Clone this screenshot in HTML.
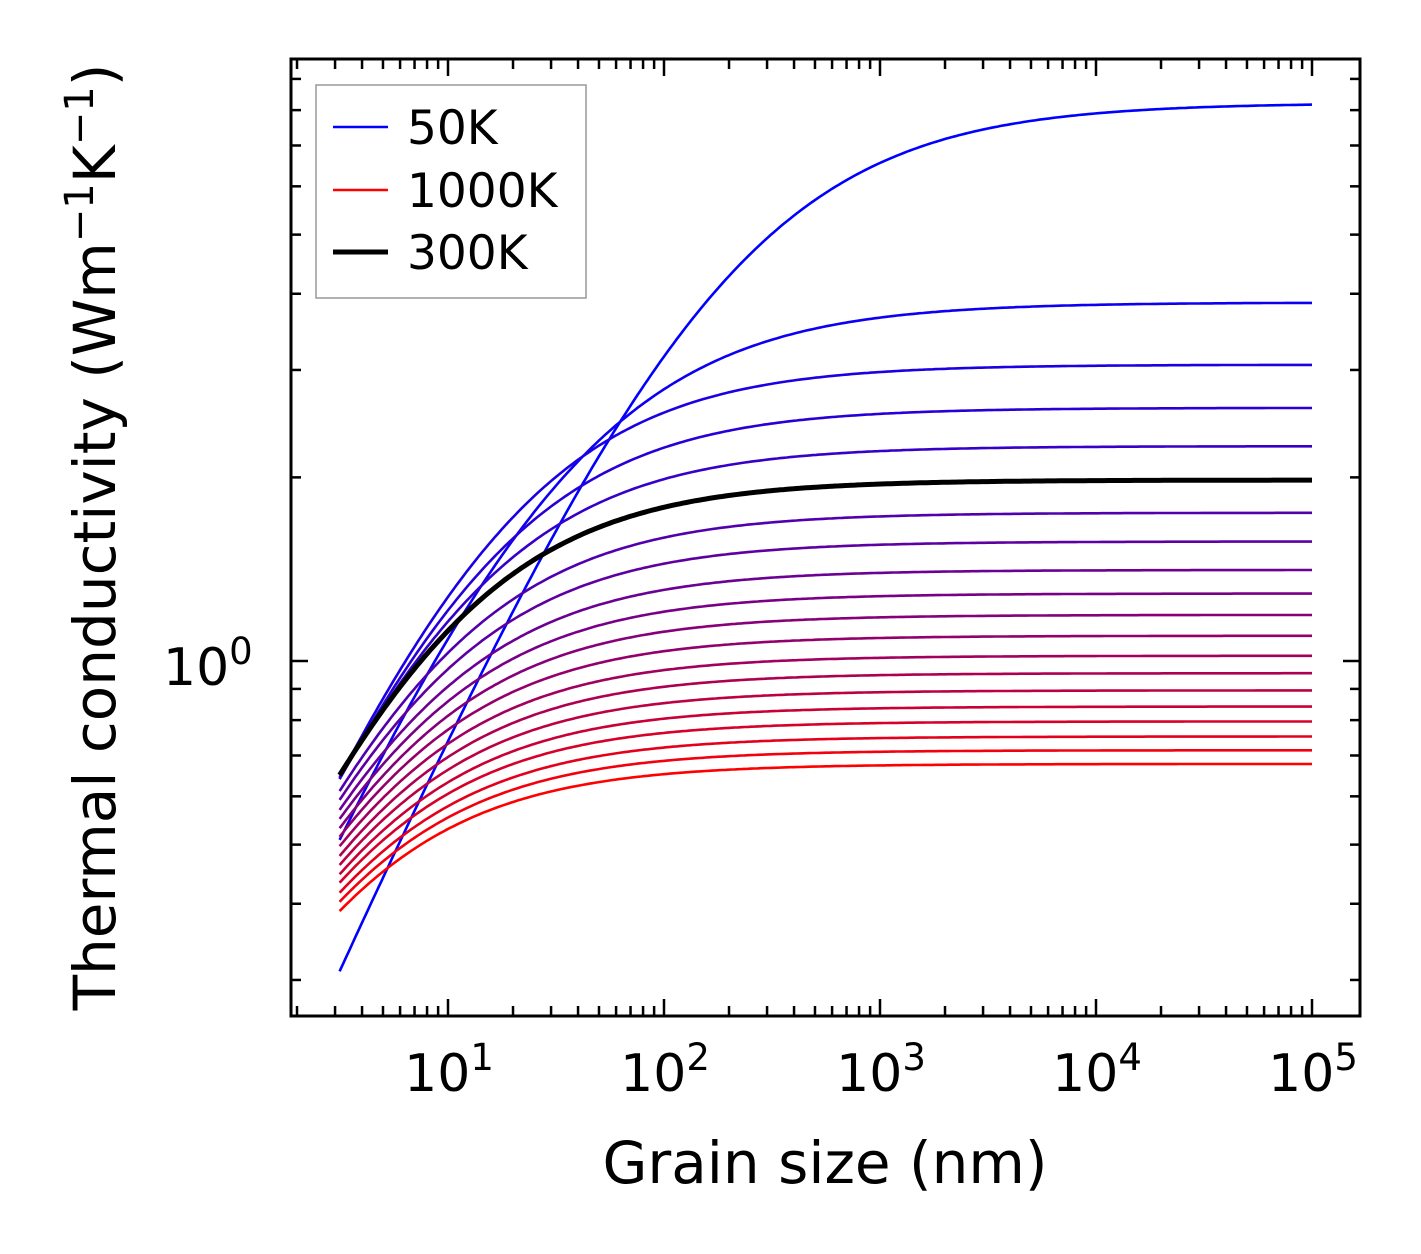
<!DOCTYPE html>
<html><head><meta charset="utf-8">
<style>
html,body{margin:0;padding:0;background:#fff;}
svg{display:block;font-family:"DejaVu Sans","Liberation Sans",sans-serif;}
</style></head>
<body>
<svg id="chart" width="1421" height="1254" viewBox="0 0 1421 1254">
<rect x="0" y="0" width="1421" height="1254" fill="#fff"/>
<g id="curves"></g>
<g id="ticks"></g>
<rect x="291" y="59" width="1069" height="957" fill="none" stroke="#000" stroke-width="3"/>
<g id="xlabels"></g>
<g id="ylabels"></g>
<text x="825" y="1183" font-size="58" text-anchor="middle">Grain size (nm)</text>
<text transform="translate(115,537) rotate(-90)" font-size="58" text-anchor="middle">Thermal conductivity (Wm<tspan dy="-22" font-size="40">−1</tspan><tspan dy="22">K</tspan><tspan dy="-22" font-size="40">−1</tspan><tspan dy="22">)</tspan></text>
<g>
<rect x="316" y="85" width="270" height="213" fill="#fff" stroke="#999" stroke-width="1.5"/>
<line x1="333" y1="127" x2="388" y2="127" stroke="#0000ff" stroke-width="2.5"/>
<text x="407" y="144" font-size="47">50K</text>
<line x1="333" y1="190" x2="388" y2="190" stroke="#ff0000" stroke-width="2.5"/>
<text x="407" y="207" font-size="47">1000K</text>
<line x1="333" y1="252" x2="388" y2="252" stroke="#000" stroke-width="5"/>
<text x="407" y="269" font-size="47">300K</text>
</g>
</svg>
<script>
// temperatures (K)
const temperatures = [50,100,150,200,250,300,350,400,450,500,550,600,650,700,750,800,850,900,950,1000];
// bulk (plateau) conductivity at 1e5 nm
const plateauValues = [8.22,3.87,3.06,2.60,2.25,1.98,1.75,1.57,1.41,1.29,1.19,1.10,1.02,0.955,0.895,0.842,0.796,0.752,0.714,0.678];
// conductivity at smallest grain size
const startValues = [0.31,0.509,0.645,0.640,0.642,0.650,0.612,0.592,0.570,0.551,0.532,0.515,0.497,0.479,0.463,0.447,0.433,0.417,0.403,0.389];
// size-suppression exponent
const exponents = [0.8,0.82,0.85,0.85,0.85,0.85,0.85,0.85,0.85,0.85,0.85,0.85,0.85,0.85,0.85,0.85,0.85,0.85,0.85,0.85];
const dMin = 3.15, dMax = 1e5;
const xTickLabels = ["1","2","3","4","5"];
const yTickLabels = ["0"];

const NS="http://www.w3.org/2000/svg";
const X0=291,X1=1360,Y0=59,Y1=1016;
function xs(d){return 448+216*(Math.log10(d)-1);}
function ys(v){return 661-610*Math.log10(v);}

const cg=document.getElementById('curves');
function col(i){const t=i/(temperatures.length-1);return `rgb(${Math.round(255*t)},0,${Math.round(255*(1-t))})`;}
function drawCurve(i){
  const kb=plateauValues[i],k0=startValues[i],p=exponents[i];
  const L=dMin*Math.pow(kb/k0-1,1/p);
  let pts=[];
  for(let j=0;j<=300;j++){
    const lg=Math.log10(dMin)+(Math.log10(dMax)-Math.log10(dMin))*j/300;
    const d=Math.pow(10,lg);
    const k=kb/(1+Math.pow(L/d,p));
    pts.push(xs(d).toFixed(1)+','+ys(k).toFixed(1));
  }
  const pl=document.createElementNS(NS,'polyline');
  pl.setAttribute('points',pts.join(' '));
  pl.setAttribute('fill','none');
  const black=temperatures[i]===300;
  pl.setAttribute('stroke',black?'#000':col(i));
  pl.setAttribute('stroke-width',black?5:2.6);
  
  
  cg.appendChild(pl);
}
temperatures.forEach((t,i)=>{if(t!==300)drawCurve(i);});
temperatures.forEach((t,i)=>{if(t===300)drawCurve(i);});

const tg=document.getElementById('ticks');
function ln(x1,y1,x2,y2,name){
  const l=document.createElementNS(NS,'line');
  l.setAttribute('x1',x1);l.setAttribute('y1',y1);l.setAttribute('x2',x2);l.setAttribute('y2',y2);
  l.setAttribute('stroke','#000');l.setAttribute('stroke-width',2.5);
  
  
  tg.appendChild(l);
}
for(let e=0;e<=5;e++){
  for(let m=1;m<=9;m++){
    const x=xs(m*Math.pow(10,e));
    if(x<X0||x>X1)continue;
    const len=m===1?17:10;
    ln(x,Y1,x,Y1-len,'x-tick');ln(x,Y0,x,Y0+len,'x-tick-top');
  }
}
for(let e=-1;e<=0;e++){
  for(let m=1;m<=9;m++){
    const y=ys(m*Math.pow(10,e));
    if(y<Y0||y>Y1)continue;
    const len=(m===1&&e===0)?17:10;
    ln(X0,y,X0+len,y,'y-tick');ln(X1,y,X1-len,y,'y-tick-right');
  }
}
const xl=document.getElementById('xlabels');
xTickLabels.forEach(s=>{
  const t=document.createElementNS(NS,'text');
  t.setAttribute('x',xs(Math.pow(10,+s))+1);t.setAttribute('y',1091);
  t.setAttribute('font-size',52);t.setAttribute('text-anchor','middle');
  t.innerHTML='10<tspan dy="-21" font-size="37">'+s+'</tspan>';
  
  
  xl.appendChild(t);
});
const yl=document.getElementById('ylabels');
yTickLabels.forEach(s=>{
  const t=document.createElementNS(NS,'text');
  t.setAttribute('x',163);t.setAttribute('y',ys(Math.pow(10,+s))+24);
  t.setAttribute('font-size',52);
  t.innerHTML='10<tspan dy="-21" font-size="37">'+s+'</tspan>';
  
  
  yl.appendChild(t);
});
</script>
</body></html>
